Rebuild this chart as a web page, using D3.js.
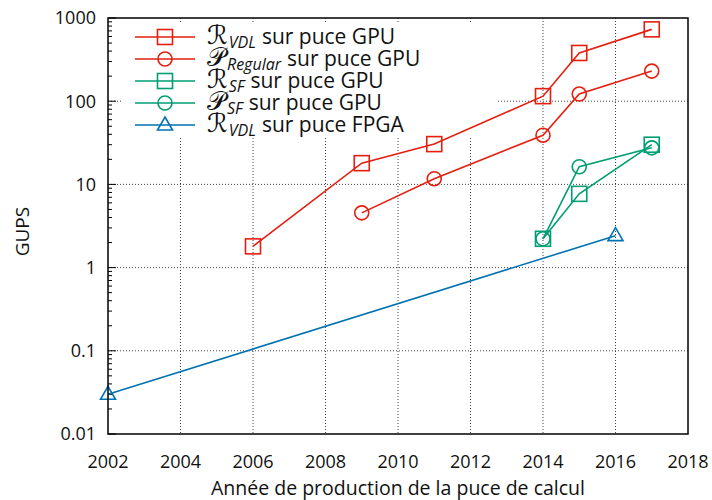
<!DOCTYPE html>
<html>
<head>
<meta charset="utf-8">
<script src="https://cdn.jsdelivr.net/npm/d3@7"></script>
<style>
  html, body { margin: 0; padding: 0; background: #fff; }
  svg { display: block; }
  text { font-family: "Open Sans", "DejaVu Sans", sans-serif; fill: #111; }
</style>
</head>
<body>
<svg id="chart" width="712" height="500"></svg>
<script>
// Throughput (GUPS) of implementations by year of the chip
const years_RVDL_GPU = [2006, 2009, 2011, 2014, 2015, 2017];
const gups_RVDL_GPU  = [1.8, 18, 30.5, 115, 380, 730];

const years_PReg_GPU = [2009, 2011, 2014, 2015, 2017];
const gups_PReg_GPU  = [4.55, 11.7, 39, 122, 230];

const years_RSF_GPU = [2014, 2015, 2017];
const gups_RSF_GPU  = [2.22, 7.7, 30];

const years_PSF_GPU = [2014, 2015, 2017];
const gups_PSF_GPU  = [2.22, 16.3, 27.5];

const years_RVDL_FPGA = [2002, 2016];
const gups_RVDL_FPGA  = [0.03, 2.42];

const xTicks = [2002, 2004, 2006, 2008, 2010, 2012, 2014, 2016, 2018];
const yTicks = [0.01, 0.1, 1, 10, 100, 1000];
const yTickLabels = ["0.01", "0.1", "1", "10", "100", "1000"];

const series = [
  { letter: "\u211B", sub: "VDL", rest: "sur puce GPU", color: "#e51e10", marker: "square", x: years_RVDL_GPU, y: gups_RVDL_GPU },
  { letter: "\uD835\uDCAB", sub: "Regular", rest: "sur puce GPU", color: "#e51e10", marker: "circle", x: years_PReg_GPU, y: gups_PReg_GPU },
  { letter: "\u211B", sub: "SF", rest: "sur puce GPU", color: "#009e73", marker: "square", x: years_RSF_GPU, y: gups_RSF_GPU },
  { letter: "\uD835\uDCAB", sub: "SF", rest: "sur puce GPU", color: "#009e73", marker: "circle", x: years_PSF_GPU, y: gups_PSF_GPU },
  { letter: "\u211B", sub: "VDL", rest: "sur puce FPGA", color: "#0072b2", marker: "triangle", x: years_RVDL_FPGA, y: gups_RVDL_FPGA }
];

const svg = d3.select("#chart");
const margin = { left: 108, right: 24, top: 18, bottom: 66 };
const W = 712, H = 500;

const x = d3.scaleLinear().domain([2002, 2018]).range([margin.left, W - margin.right]);
const y = d3.scaleLog().domain([0.01, 1000]).range([H - margin.bottom, margin.top]);

// grid
const grid = svg.append("g").attr("stroke", "#444").attr("stroke-width", 1).attr("stroke-dasharray", "1,2");
grid.selectAll("line.v").data(xTicks.slice(1, -1)).join("line")
  .attr("x1", d => x(d)).attr("x2", d => x(d))
  .attr("y1", y(1000)).attr("y2", y(0.01));
grid.selectAll("line.h").data(yTicks.slice(1, -1)).join("line")
  .attr("x1", x(2002)).attr("x2", x(2018))
  .attr("y1", d => y(d)).attr("y2", d => y(d));

// minor / major ticks on the left axis, pointing inward
const minor = [];
for (let e = -2; e < 3; e++) for (let k = 2; k <= 9; k++) minor.push(k * Math.pow(10, e));
svg.append("g").attr("stroke", "#000").attr("stroke-width", 1)
  .selectAll("line").data(minor).join("line")
  .attr("x1", x(2002)).attr("x2", x(2002) + 4)
  .attr("y1", d => y(d)).attr("y2", d => y(d));
svg.append("g").attr("stroke", "#000").attr("stroke-width", 1)
  .selectAll("line").data(yTicks).join("line")
  .attr("x1", x(2002)).attr("x2", x(2002) + 8)
  .attr("y1", d => y(d)).attr("y2", d => y(d));

// tick labels
svg.append("g").selectAll("text").data(yTicks).join("text")
  .attr("x", x(2002) - 12).attr("y", d => y(d)).attr("dy", "0.36em")
  .attr("text-anchor", "end").attr("font-size", 18)
  .text((d, i) => yTickLabels[i]);
svg.append("g").selectAll("text").data(xTicks).join("text")
  .attr("x", d => x(d)).attr("y", y(0.01) + 34)
  .attr("text-anchor", "middle").attr("font-size", 18)
  .text(d => d);

// axis titles
svg.append("text").attr("x", x(2010)).attr("y", 495).attr("text-anchor", "middle")
  .attr("font-size", 19.5).text("Année de production de la puce de calcul");
svg.append("text").attr("transform", `translate(29,${y(1) - 36}) rotate(-90)`)
  .attr("text-anchor", "middle").attr("font-size", 19).text("GUPS");

// legend background (opaque, hides grid)
const leg = svg.append("g");
leg.append("rect").attr("x", 122).attr("y", 24).attr("width", 376).attr("height", 112).attr("fill", "#fff");

function drawMarker(g, kind, cx, cy, color) {
  if (kind === "square") {
    g.append("rect").attr("x", cx - 7.5).attr("y", cy - 7.5).attr("width", 15).attr("height", 15)
      .attr("fill", "none").attr("stroke", color).attr("stroke-width", 1.6);
  } else if (kind === "circle") {
    g.append("circle").attr("cx", cx).attr("cy", cy).attr("r", 7)
      .attr("fill", "none").attr("stroke", color).attr("stroke-width", 1.6);
  } else {
    g.append("path").attr("d", `M${cx},${cy - 8}L${cx + 7.5},${cy + 5}L${cx - 7.5},${cy + 5}Z`)
      .attr("fill", "none").attr("stroke", color).attr("stroke-width", 1.6);
  }
}

// series
const plot = svg.append("g");
const line = d3.line().x(d => x(d[0])).y(d => y(d[1]));
series.forEach(s => {
  const pts = s.x.map((v, i) => [v, s.y[i]]);
  plot.append("path").attr("d", line(pts)).attr("fill", "none")
    .attr("stroke", s.color).attr("stroke-width", 1.6);
  pts.forEach(p => drawMarker(plot, s.marker, x(p[0]), y(p[1]), s.color));
});

// legend entries: script letter, italic subscript, then the description
series.forEach((s, i) => {
  const cy = 37 + i * 22;
  leg.append("line").attr("x1", 135).attr("x2", 195).attr("y1", cy).attr("y2", cy)
    .attr("stroke", s.color).attr("stroke-width", 1.6);
  drawMarker(leg, s.marker, 165, cy, s.color);
  const t = leg.append("text").attr("x", 207).attr("y", cy + 7).attr("font-size", 21);
  t.append("tspan").attr("font-family", "'DejaVu Serif', 'DejaVu Sans', serif")
    .attr("font-size", 26).text(s.letter);
  t.append("tspan").attr("font-size", 16).attr("font-style", "italic").attr("dx", 1).attr("dy", 4).text(s.sub);
  t.append("tspan").attr("dx", 6).attr("dy", -4).text(s.rest);
});

// frame
svg.append("rect").attr("x", x(2002)).attr("y", y(1000))
  .attr("width", x(2018) - x(2002)).attr("height", y(0.01) - y(1000))
  .attr("fill", "none").attr("stroke", "#000").attr("stroke-width", 1.5);
</script>
</body>
</html>
